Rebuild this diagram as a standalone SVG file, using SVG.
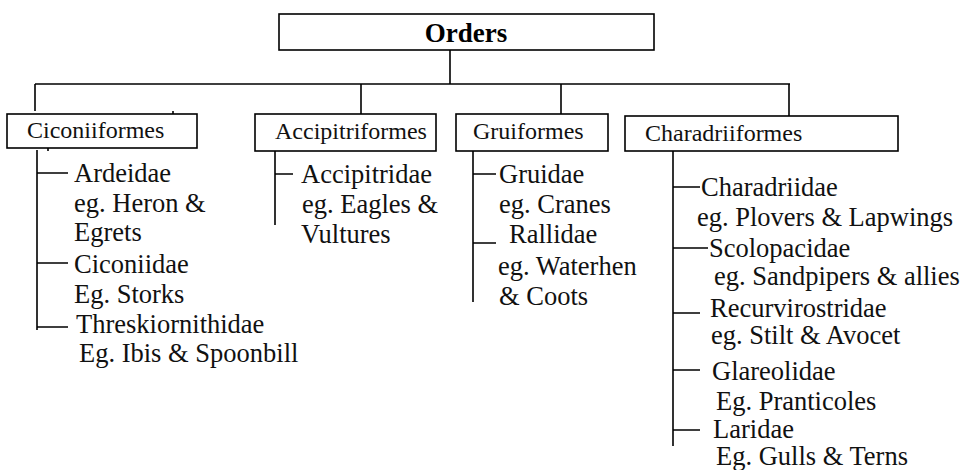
<svg xmlns="http://www.w3.org/2000/svg" width="963" height="470" viewBox="0 0 963 470">
<style>
.box{fill:#fff;stroke:#000;stroke-width:1.6}
.ln{stroke:#000;stroke-width:1.6;fill:none}
.h{font-size:24px}
.t{font-size:26.5px}
.top{font-size:27px;font-weight:bold}
</style>
<rect width="963" height="470" fill="#fff"/>
<g id="connectors">
<path class="ln" d="M450,50V84M35,84H790M35,84V111M361,84V114M561,84V114M789,84V116"/>
<path class="ln" d="M173,111V114M48,148V151"/>
<path class="ln" d="M37,150V330M37,173H68M37,263H68M37,327H68"/>
<path class="ln" d="M275,151V225M275,174H293"/>
<path class="ln" d="M473,151V302M473,174H496M473,243H496"/>
<path class="ln" d="M673,151V446M673,187H700M673,248H708M673,313H700M673,370H700M673,430H700"/>
</g>
<g font-family="Liberation Serif, Times New Roman, serif" fill="#111">
<g id="orders">
<rect class="box" x="279" y="14" width="375" height="36"/>
<text class="top" x="466" y="42" text-anchor="middle" fill="#000">Orders</text>
</g>
<g id="ciconiiformes">
<rect class="box" x="7" y="114" width="190" height="34"/>
<text class="h" x="27" y="138">Ciconiiformes</text>
</g>
<g id="accipitriformes">
<rect class="box" x="255" y="114" width="181" height="37"/>
<text class="h" x="275" y="139">Accipitriformes</text>
</g>
<g id="gruiformes">
<rect class="box" x="456" y="114" width="152" height="37"/>
<text class="h" x="473" y="139">Gruiformes</text>
</g>
<g id="charadriiformes">
<rect class="box" x="625" y="116" width="273" height="35"/>
<text class="h" x="645" y="141">Charadriiformes</text>
</g>
<g id="ardeidae">
<text class="t" x="74" y="182">Ardeidae</text>
<text class="t" x="74" y="212">eg. Heron &amp;</text>
<text class="t" x="74" y="241">Egrets</text>
</g>
<g id="ciconiidae">
<text class="t" x="74" y="273">Ciconiidae</text>
<text class="t" x="74" y="303">Eg. Storks</text>
</g>
<g id="threskiornithidae">
<text class="t" x="76" y="333">Threskiornithidae</text>
<text class="t" x="79" y="362">Eg. Ibis &amp; Spoonbill</text>
</g>
<g id="accipitridae">
<text class="t" x="301" y="183">Accipitridae</text>
<text class="t" x="302" y="213">eg. Eagles &amp;</text>
<text class="t" x="301" y="243">Vultures</text>
</g>
<g id="gruidae">
<text class="t" x="499" y="183">Gruidae</text>
<text class="t" x="499" y="213">eg. Cranes</text>
</g>
<g id="rallidae">
<text class="t" x="509" y="243">Rallidae</text>
<text class="t" x="498" y="275">eg. Waterhen</text>
<text class="t" x="499" y="305">&amp; Coots</text>
</g>
<g id="charadriidae">
<text class="t" x="701" y="196">Charadriidae</text>
<text class="t" x="697" y="226">eg. Plovers &amp; Lapwings</text>
</g>
<g id="scolopacidae">
<text class="t" x="709" y="257">Scolopacidae</text>
<text class="t" x="714" y="285">eg. Sandpipers &amp; allies</text>
</g>
<g id="recurvirostridae">
<text class="t" x="710" y="317">Recurvirostridae</text>
<text class="t" x="711" y="344">eg. Stilt &amp; Avocet</text>
</g>
<g id="glareolidae">
<text class="t" x="712" y="380">Glareolidae</text>
<text class="t" x="716" y="410">Eg. Pranticoles</text>
</g>
<g id="laridae">
<text class="t" x="713" y="438">Laridae</text>
<text class="t" x="716" y="465">Eg. Gulls  &amp; Terns</text>
</g>
</g>
</svg>
